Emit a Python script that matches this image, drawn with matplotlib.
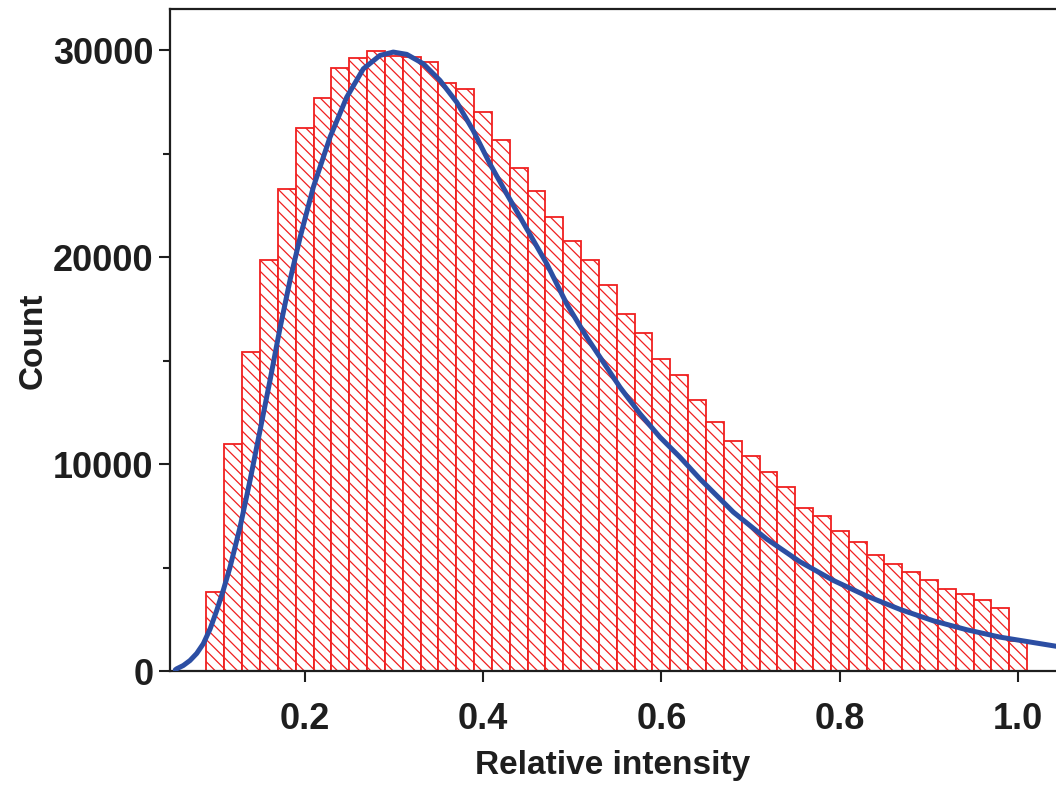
import numpy as np
import matplotlib
matplotlib.use("Agg")
import matplotlib.pyplot as plt

plt.rcParams['font.family'] = ['Liberation Sans', 'DejaVu Sans']
plt.rcParams['font.weight'] = 'bold'
plt.rcParams['hatch.linewidth'] = 0.9

# histogram: bin centres (width 0.02) and counts
bin_centers = [0.10, 0.12, 0.14, 0.16, 0.18, 0.20, 0.22, 0.24, 0.26, 0.28,
               0.30, 0.32, 0.34, 0.36, 0.38, 0.40, 0.42, 0.44, 0.46, 0.48,
               0.50, 0.52, 0.54, 0.56, 0.58, 0.60, 0.62, 0.64, 0.66, 0.68,
               0.70, 0.72, 0.74, 0.76, 0.78, 0.80, 0.82, 0.84, 0.86, 0.88,
               0.90, 0.92, 0.94, 0.96, 0.98, 1.00]
counts = [3820, 11000, 15420, 19890, 23320, 26250, 27700, 29150, 29650, 29950,
          29710, 29680, 29420, 28450, 28150, 27050, 25650, 24330, 23200, 21950,
          20790, 19890, 18650, 17290, 16360, 15100, 14330, 13120, 12040, 11110,
          10430, 9630, 8900, 7900, 7490, 6780, 6260, 5650, 5180, 4815,
          4400, 3980, 3720, 3460, 3090, 1460]
bin_width = 0.02

# fitted curve, points
fit_x = [0.055, 0.0566, 0.064, 0.0715, 0.079, 0.0864, 0.094, 0.1015, 0.109,
         0.1164, 0.1276, 0.1388, 0.15,
         0.1612, 0.172, 0.184, 0.195, 0.2098, 0.2285, 0.2472, 0.2658, 0.2845,
         0.2994, 0.3145, 0.333, 0.3518, 0.3705, 0.389, 0.4078, 0.4266, 0.4415,
         0.4714, 0.4938, 0.5163, 0.5312, 0.5536, 0.576, 0.5984, 0.6209, 0.6433,
         0.6806, 0.718, 0.7554, 0.7927, 0.830, 0.8675, 0.9048, 0.942, 0.9796,
         1.0424]
fit_y = [80, 130, 290, 530, 870, 1340, 2050, 2950, 3950,
         5040, 6970, 9230, 11640,
         14060, 16500, 18970, 20980, 23400, 25810, 27740, 29110, 29760,
         29920, 29810, 29360, 28550, 27500, 26130, 24520, 23070, 21950,
         19700, 17760, 16150, 15180, 13730, 12450, 11320, 10350, 9300,
         7700, 6400, 5300, 4400, 3650, 3000, 2450, 2020, 1660,
         1220]

fig = plt.figure(figsize=(10.56, 7.85), dpi=100)
ax = fig.add_axes([0.161, 0.1446, 0.839, 0.8439])

ax.bar(bin_centers, counts, width=bin_width, facecolor='white',
       edgecolor='#f02020', linewidth=1.3, hatch='\\\\\\', zorder=2)
ax.plot(fit_x, fit_y, color='#2c4ea3', linewidth=3.6, zorder=3,
        solid_capstyle='round', solid_joinstyle='round')

ax.set_xlim(0.0491, 1.0424)
ax.set_ylim(0, 32000)
ax.set_xticks([0.2, 0.4, 0.6, 0.8, 1.0])
ax.set_xticklabels(['0.2', '0.4', '0.6', '0.8', '1.0'])
ax.set_yticks([0, 10000, 20000, 30000])
ax.set_yticks([5000, 15000, 25000], minor=True)

ax.tick_params(axis='both', which='major', direction='out', length=8,
               width=1.5, labelsize=26, pad=4, colors='#1e1e1e')
ax.tick_params(axis='y', which='minor', direction='out', length=5, width=1.5,
               colors='#1e1e1e')
ax.tick_params(axis='x', pad=14)

for side in ['left', 'top', 'bottom']:
    ax.spines[side].set_linewidth(1.6)
    ax.spines[side].set_color('#1e1e1e')
ax.spines['right'].set_visible(False)

ax.set_xlabel('Relative intensity', fontsize=24, fontweight='bold',
              color='#1e1e1e', labelpad=9)
ax.set_ylabel('Count', fontsize=24, fontweight='bold', color='#1e1e1e',
              labelpad=3)

fig.savefig('out.png', dpi=100)
